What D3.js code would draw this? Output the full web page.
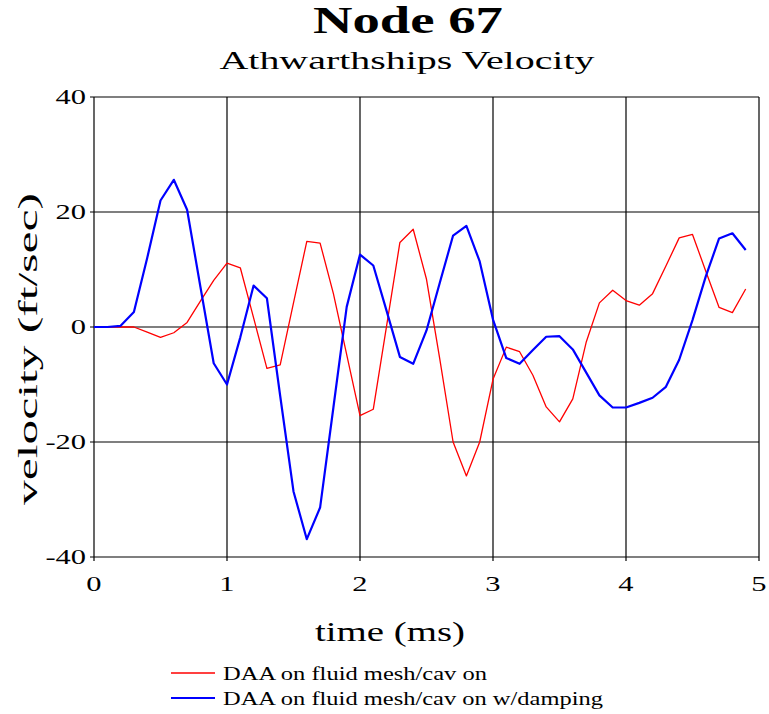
<!DOCTYPE html>
<html><head><meta charset="utf-8">
<script src="https://cdn.jsdelivr.net/npm/d3@7"></script>
<style>body{margin:0;background:#fff}svg{display:block}text{font-family:"Liberation Serif","Times New Roman",Times,serif;fill:#000}</style>
</head><body>
<script>
const time = [0,0.1,0.2,0.3,0.4,0.5,0.6,0.7,0.8,0.9,1.0,1.1,1.2,1.3,1.4,1.5,1.6,1.7,1.8,1.9,2.0,2.1,2.2,2.3,2.4,2.5,2.6,2.7,2.8,2.9,3.0,3.1,3.2,3.3,3.4,3.5,3.6,3.7,3.8,3.9,4.0,4.1,4.2,4.3,4.4,4.5,4.6,4.7,4.8,4.9];
const cavOn = [0,0,0,0,-0.9,-1.8,-1.0,0.8,4.5,8.1,11.1,10.3,1.6,-7.2,-6.6,4.2,14.9,14.6,5.8,-4.8,-15.4,-14.3,0.2,14.7,17.0,8.3,-5.6,-20.0,-25.9,-20.0,-9.1,-3.5,-4.3,-8.4,-13.9,-16.5,-12.5,-2.7,4.2,6.4,4.6,3.8,5.8,10.6,15.5,16.1,9.7,3.4,2.5,6.6];
const cavDamp = [0,0,0.2,2.6,12,22.0,25.6,20.4,7,-6.3,-10.0,-1.8,7.2,5.0,-12,-28.6,-36.9,-31.4,-14,3.5,12.6,10.7,2.8,-5.2,-6.4,-0.6,7.7,15.9,17.6,11.4,1.3,-5.4,-6.4,-4.0,-1.7,-1.6,-3.9,-7.9,-11.9,-14.0,-14.0,-13.2,-12.3,-10.4,-5.7,1.2,8.8,15.4,16.3,13.4];
const xTicks = [0,1,2,3,4,5];
const yTicks = [-40,-20,0,20,40];
const seriesNames = ["DAA on fluid mesh/cav on","DAA on fluid mesh/cav on w/damping"];
const seriesColors = ["#ff0000","#0000ff"];

const W=769,H=714;
const svg=d3.select("body").append("svg").attr("width",W).attr("height",H);
const x=d3.scaleLinear().domain([0,5]).range([94,759]);
const y=d3.scaleLinear().domain([-40,40]).range([557,97]);

// grid
const g=svg.append("g");
g.selectAll(".vg").data(xTicks).enter().append("line")
 .attr("x1",d=>x(d)).attr("x2",d=>x(d)).attr("y1",y(40)).attr("y2",y(-40)+4)
 .attr("stroke","#000").attr("stroke-width",1.2);
g.selectAll(".hg").data(yTicks).enter().append("line")
 .attr("x1",x(0)-4).attr("x2",x(5)).attr("y1",d=>y(d)).attr("y2",d=>y(d))
 .attr("stroke","#000").attr("stroke-width",1.2);

// tick labels
const fontStretch=1.45;
function stretched(sel,txt,size,weight){
  sel.text(txt).attr("font-size",size).attr("font-weight",weight||"normal");
  const n=sel.node(); const w=n.getComputedTextLength();
  sel.attr("textLength",w*fontStretch).attr("lengthAdjust","spacingAndGlyphs");
  return w*fontStretch;
}
yTicks.forEach(t=>{
  const tx=svg.append("text").attr("y",y(t)+7);
  const w=stretched(tx,String(t),21);
  tx.attr("x",x(0)-8-w);
});
xTicks.forEach(t=>{
  const tx=svg.append("text").attr("y",591);
  const w=stretched(tx,String(t),21);
  tx.attr("x",x(t)-w/2);
});

// lines
const line=d3.line().x((d,i)=>x(time[i])).y(d=>y(d));
svg.append("path").datum(cavOn).attr("d",line).attr("fill","none").attr("stroke",seriesColors[0]).attr("stroke-width",1.3).attr("stroke-linejoin","round");
svg.append("path").datum(cavDamp).attr("d",line).attr("fill","none").attr("stroke",seriesColors[1]).attr("stroke-width",2.2).attr("stroke-linejoin","round");

// titles
function placeCentered(txt,cx,by,size,weight,len){
  const t=svg.append("text").attr("y",by).attr("x",cx).attr("text-anchor","middle")
   .attr("font-size",size).attr("font-weight",weight).text(txt)
   .attr("textLength",len).attr("lengthAdjust","spacingAndGlyphs");
  return t;
}
placeCentered("Node 67",408,33,37,"bold",190);
placeCentered("Athwarthships Velocity",407,69,26,"normal",375);
placeCentered("time (ms)",390,641,27,"normal",150);
svg.append("text").attr("transform","translate(37,349) rotate(-90)").attr("text-anchor","middle")
 .attr("font-size",28).attr("font-weight","normal").text("velocity (ft/sec)")
 .attr("textLength",312).attr("lengthAdjust","spacingAndGlyphs");

// legend
const legY=[673,698];
const legLen=[264,380];
seriesNames.forEach((n,i)=>{
  svg.append("line").attr("x1",171).attr("x2",215).attr("y1",legY[i]).attr("y2",legY[i])
    .attr("stroke",seriesColors[i]).attr("stroke-width",i?2.2:1.3);
  svg.append("text").attr("x",223).attr("y",legY[i]+7).attr("font-size",18).text(n)
    .attr("textLength",legLen[i]).attr("lengthAdjust","spacingAndGlyphs");
});
</script>
</body></html>
